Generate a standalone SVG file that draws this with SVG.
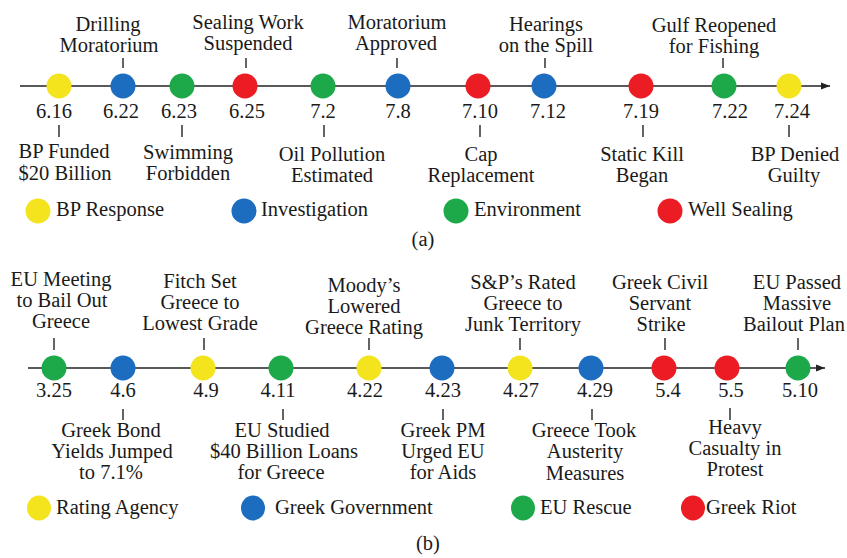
<svg xmlns="http://www.w3.org/2000/svg" width="847" height="558" viewBox="0 0 847 558">
<defs>
<style>
text{font-family:"Liberation Serif","Times New Roman",serif;font-size:20.5px;fill:#1a1a1a;text-anchor:middle}
.lg{text-anchor:start}
.ax{stroke:#222;stroke-width:1.6;fill:none}
.tk{stroke:#222;stroke-width:1.4}
.y{fill:#F3E41E}.b{fill:#1C6CBF}.g{fill:#1DA84A}.r{fill:#EB1C24}
</style>
<marker id="arr" markerWidth="10" markerHeight="8" refX="9" refY="4" orient="auto" markerUnits="userSpaceOnUse">
<path d="M0,0.5 L9,4 L0,7.5 Z" fill="#222"/>
</marker>
</defs>
<rect width="847" height="558" fill="#fff"/>

<g id="connectors">
<line class="ax" x1="20" y1="86" x2="830" y2="86" marker-end="url(#arr)"/>
<line class="ax" x1="28" y1="368" x2="825" y2="368" marker-end="url(#arr)"/>
</g>

<!-- (a) -->
<g id="a616"><line class="tk" x1="59" y1="125" x2="59" y2="137"/><circle class="y" cx="59" cy="86" r="12.5"/><text x="54" y="118">6.16</text><text x="64" y="158">BP Funded</text><text x="65" y="180">$20 Billion</text></g>
<g id="a622"><line class="tk" x1="123" y1="58" x2="123" y2="68"/><circle class="b" cx="123" cy="86" r="12.5"/><text x="108" y="31">Drilling</text><text x="109" y="52">Moratorium</text><text x="121" y="118">6.22</text></g>
<g id="a623"><line class="tk" x1="182" y1="125" x2="182" y2="137"/><circle class="g" cx="182" cy="86" r="12.5"/><text x="179" y="118">6.23</text><text x="188" y="159">Swimming</text><text x="188" y="180">Forbidden</text></g>
<g id="a625"><line class="tk" x1="246" y1="58" x2="246" y2="68"/><circle class="r" cx="245" cy="86" r="12.5"/><text x="248" y="29">Sealing Work</text><text x="248" y="50">Suspended</text><text x="247" y="118">6.25</text></g>
<g id="a72"><line class="tk" x1="324" y1="125" x2="324" y2="137"/><circle class="g" cx="323" cy="86" r="12.5"/><text x="323" y="118">7.2</text><text x="332" y="161">Oil Pollution</text><text x="332" y="182">Estimated</text></g>
<g id="a78"><line class="tk" x1="397" y1="58" x2="397" y2="68"/><circle class="b" cx="398" cy="86" r="12.5"/><text x="397" y="29">Moratorium</text><text x="396" y="50">Approved</text><text x="398" y="118">7.8</text></g>
<g id="a710"><line class="tk" x1="480" y1="125" x2="480" y2="137"/><circle class="r" cx="478" cy="86" r="12.5"/><text x="480" y="118">7.10</text><text x="481" y="161">Cap</text><text x="481" y="182">Replacement</text></g>
<g id="a712"><line class="tk" x1="545" y1="58" x2="545" y2="68"/><circle class="b" cx="544" cy="86" r="12.5"/><text x="546" y="31">Hearings</text><text x="546" y="52">on the Spill</text><text x="548" y="118">7.12</text></g>
<g id="a719"><line class="tk" x1="643" y1="125" x2="643" y2="137"/><circle class="r" cx="641" cy="86" r="12.5"/><text x="641" y="118">7.19</text><text x="642" y="161">Static Kill</text><text x="642" y="182">Began</text></g>
<g id="a722"><line class="tk" x1="723" y1="58" x2="723" y2="68"/><circle class="g" cx="724" cy="86" r="12.5"/><text x="714" y="32">Gulf Reopened</text><text x="714" y="53">for Fishing</text><text x="730" y="118">7.22</text></g>
<g id="a724"><line class="tk" x1="789" y1="125" x2="789" y2="137"/><circle class="y" cx="789" cy="86" r="12.5"/><text x="792" y="118">7.24</text><text x="795" y="161">BP Denied</text><text x="794" y="182">Guilty</text></g>

<g id="legend-a">
<g id="la-y"><circle class="y" cx="38" cy="211" r="12.5"/><text class="lg" x="56" y="216">BP Response</text></g>
<g id="la-b"><circle class="b" cx="244" cy="211" r="12.5"/><text class="lg" x="261" y="216">Investigation</text></g>
<g id="la-g"><circle class="g" cx="456" cy="211" r="12.5"/><text class="lg" x="474" y="216">Environment</text></g>
<g id="la-r"><circle class="r" cx="670" cy="211" r="12.5"/><text class="lg" x="688" y="216">Well Sealing</text></g>
</g>
<text id="cap-a" x="423" y="246">(a)</text>

<!-- (b) -->
<g id="b325"><line class="tk" x1="54" y1="338" x2="54" y2="350"/><circle class="g" cx="54" cy="368" r="12.5"/><text x="61" y="286">EU Meeting</text><text x="62" y="307">to Bail Out</text><text x="61" y="328">Greece</text><text x="54" y="397">3.25</text></g>
<g id="b46"><line class="tk" x1="123" y1="409" x2="123" y2="420"/><circle class="b" cx="123" cy="368" r="12.5"/><text x="123" y="397">4.6</text><text x="111" y="437">Greek Bond</text><text x="112" y="458">Yields Jumped</text><text x="111" y="479">to 7.1%</text></g>
<g id="b49"><line class="tk" x1="204" y1="338" x2="204" y2="350"/><circle class="y" cx="203" cy="368" r="12.5"/><text x="200" y="288">Fitch Set</text><text x="200" y="309">Greece to</text><text x="200" y="330">Lowest Grade</text><text x="206" y="397">4.9</text></g>
<g id="b411"><line class="tk" x1="283" y1="409" x2="283" y2="420"/><circle class="g" cx="281" cy="368" r="12.5"/><text x="278" y="397">4.11</text><text x="282" y="437">EU Studied</text><text x="284" y="458">$40 Billion Loans</text><text x="281" y="479">for Greece</text></g>
<g id="b422"><line class="tk" x1="369" y1="338" x2="369" y2="350"/><circle class="y" cx="369" cy="368" r="12.5"/><text x="364" y="292">Moody’s</text><text x="364" y="313">Lowered</text><text x="364" y="334">Greece Rating</text><text x="365" y="397">4.22</text></g>
<g id="b423"><line class="tk" x1="443" y1="409" x2="443" y2="420"/><circle class="b" cx="442" cy="368" r="12.5"/><text x="443" y="397">4.23</text><text x="443" y="437">Greek PM</text><text x="443" y="458">Urged EU</text><text x="443" y="479">for Aids</text></g>
<g id="b427"><line class="tk" x1="520" y1="338" x2="520" y2="350"/><circle class="y" cx="520" cy="368" r="12.5"/><text x="523" y="289">S&amp;P’s Rated</text><text x="523" y="310">Greece to</text><text x="523" y="331">Junk Territory</text><text x="521" y="397">4.27</text></g>
<g id="b429"><line class="tk" x1="592" y1="409" x2="592" y2="420"/><circle class="b" cx="591" cy="368" r="12.5"/><text x="595" y="397">4.29</text><text x="584" y="437">Greece Took</text><text x="585" y="458">Austerity</text><text x="585" y="480">Measures</text></g>
<g id="b54"><line class="tk" x1="665" y1="338" x2="665" y2="350"/><circle class="r" cx="664" cy="368" r="12.5"/><text x="660" y="289">Greek Civil</text><text x="660" y="310">Servant</text><text x="661" y="331">Strike</text><text x="668" y="397">5.4</text></g>
<g id="b55"><line class="tk" x1="730" y1="408" x2="730" y2="420"/><circle class="r" cx="727" cy="368" r="12.5"/><text x="731" y="397">5.5</text><text x="735" y="434">Heavy</text><text x="735" y="455">Casualty in</text><text x="735" y="476">Protest</text></g>
<g id="b510"><line class="tk" x1="798" y1="338" x2="798" y2="350"/><circle class="g" cx="798" cy="368" r="12.5"/><text x="797" y="289">EU Passed</text><text x="797" y="310">Massive</text><text x="794" y="331">Bailout Plan</text><text x="800" y="397">5.10</text></g>

<g id="legend-b">
<g id="lb-y"><ellipse class="y" cx="39" cy="508" rx="12" ry="12.5"/><text class="lg" x="56" y="514">Rating Agency</text></g>
<g id="lb-b"><ellipse class="b" cx="253" cy="508" rx="12" ry="12.5"/><text class="lg" x="275" y="514">Greek Government</text></g>
<g id="lb-g"><ellipse class="g" cx="523" cy="508" rx="12" ry="12.5"/><text class="lg" x="540" y="514">EU Rescue</text></g>
<g id="lb-r"><ellipse class="r" cx="693" cy="508" rx="12" ry="12.5"/><text class="lg" x="706" y="514">Greek Riot</text></g>
</g>
<text id="cap-b" x="428" y="550">(b)</text>
</svg>
